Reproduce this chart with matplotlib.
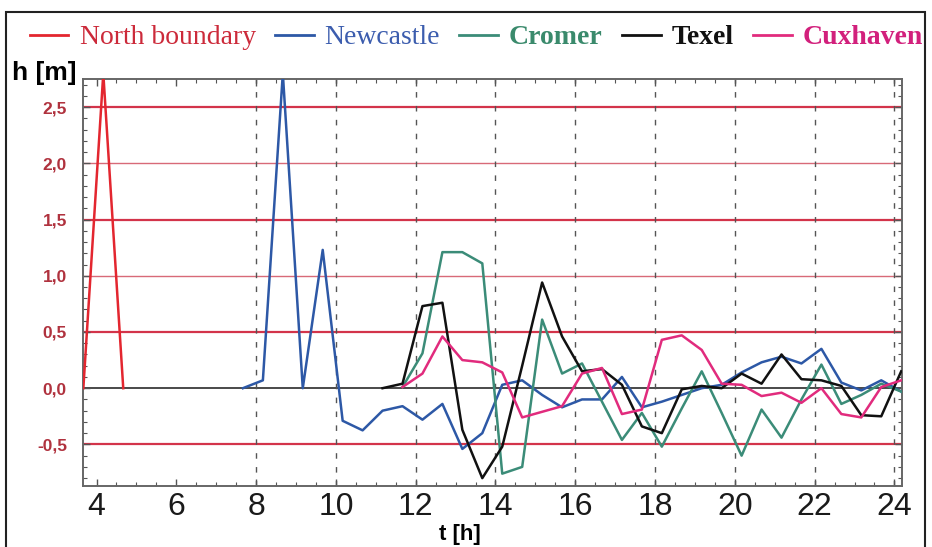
import matplotlib
matplotlib.use("Agg")
import matplotlib.pyplot as plt
from matplotlib.lines import Line2D
from matplotlib.patches import Rectangle
from matplotlib.ticker import MultipleLocator

# water level h [m] at gauge stations, t [h]
T_NORTH = [3.67, 4.17, 4.67]
H_NORTH = [0.0, 2.8, 0.0]

T_NEWCASTLE = [7.67, 8.17, 8.67, 9.17, 9.67, 10.17, 10.67, 11.17, 11.67, 12.17,
               12.67, 13.17, 13.67, 14.17, 14.67, 15.17, 15.67, 16.17, 16.67, 17.17,
               17.67, 18.17, 18.67, 19.17, 19.67, 20.17, 20.67, 21.17, 21.67, 22.17,
               22.67, 23.17, 23.67, 24.17]
H_NEWCASTLE = [0.0, 0.07, 2.8, 0.0, 1.23, -0.29, -0.375, -0.20, -0.16, -0.28,
               -0.14, -0.54, -0.40, 0.03, 0.07, -0.06, -0.17, -0.10, -0.10, 0.10,
               -0.17, -0.12, -0.06, 0.0, 0.03, 0.14, 0.23, 0.28, 0.22, 0.35,
               0.05, -0.02, 0.07, -0.03]

T_CROMER = [11.67, 12.17, 12.67, 13.17, 13.67, 14.17, 14.67, 15.17, 15.67, 16.17,
            16.67, 17.17, 17.67, 18.17, 18.67, 19.17, 19.67, 20.17, 20.67, 21.17,
            21.67, 22.17, 22.67, 23.17, 23.67, 24.17]
H_CROMER = [0.01, 0.31, 1.21, 1.21, 1.11, -0.76, -0.70, 0.61, 0.13, 0.22,
            -0.12, -0.46, -0.22, -0.52, -0.18, 0.15, -0.22, -0.60, -0.19, -0.44,
            -0.10, 0.21, -0.14, -0.06, 0.04, -0.03]

T_TEXEL = [11.17, 11.67, 12.17, 12.67, 13.17, 13.67, 14.17, 14.67, 15.17, 15.67,
           16.17, 16.67, 17.17, 17.67, 18.17, 18.67, 19.17, 19.67, 20.17, 20.67,
           21.17, 21.67, 22.17, 22.67, 23.17, 23.67, 24.17]
H_TEXEL = [0.0, 0.04, 0.73, 0.76, -0.37, -0.80, -0.52, 0.20, 0.94, 0.46,
           0.15, 0.17, 0.03, -0.34, -0.40, -0.01, 0.02, 0.0, 0.13, 0.04,
           0.30, 0.08, 0.07, 0.02, -0.24, -0.25, 0.15]

T_CUXHAVEN = [11.67, 12.17, 12.67, 13.17, 13.67, 14.17, 14.67, 15.17, 15.67, 16.17,
              16.67, 17.17, 17.67, 18.17, 18.67, 19.17, 19.67, 20.17, 20.67, 21.17,
              21.67, 22.17, 22.67, 23.17, 23.67, 24.17]
H_CUXHAVEN = [0.01, 0.13, 0.46, 0.25, 0.23, 0.14, -0.26, -0.21, -0.16, 0.13,
              0.18, -0.23, -0.19, 0.43, 0.47, 0.34, 0.04, 0.03, -0.07, -0.04,
              -0.13, 0.0, -0.23, -0.26, 0.01, 0.07]

SERIES = [
    ("North boundary", T_NORTH, H_NORTH, "#e3262f", "#cc2a3a", "normal"),
    ("Newcastle", T_NEWCASTLE, H_NEWCASTLE, "#2d58a6", "#3c5dae", "normal"),
    ("Cromer", T_CROMER, H_CROMER, "#3b8c78", "#3a8a6c", "bold"),
    ("Texel", T_TEXEL, H_TEXEL, "#111111", "#111111", "bold"),
    ("Cuxhaven", T_CUXHAVEN, H_CUXHAVEN, "#e12b7d", "#d2207c", "bold"),
]

Y_TICKS = [-0.5, 0.0, 0.5, 1.0, 1.5, 2.0, 2.5]
Y_TICK_LABELS = ["-0,5", "0,0", "0,5", "1,0", "1,5", "2,0", "2,5"]
X_TICKS = [4, 6, 8, 10, 12, 14, 16, 18, 20, 22, 24]
DASHED_T = [8, 10, 12, 14, 16, 18, 20, 22, 24]
STRONG_LEVELS = [2.5, 1.5, 0.5, -0.5]
WEAK_LEVELS = [2.0, 1.0]

SANS = ["Liberation Sans", "DejaVu Sans"]


def main() -> None:
    fig = plt.figure(figsize=(9.32, 5.47), dpi=100)
    ax = fig.add_axes([0.089, 0.1115, 0.8788, 0.7441])

    # grid: red level lines and dashed hour lines
    for lev in STRONG_LEVELS:
        ax.axhline(lev, color="#d3344a", lw=1.6, zorder=1)
    for lev in WEAK_LEVELS:
        ax.axhline(lev, color="#d86a78", lw=1.0, zorder=1)
    ax.axhline(0.0, color="#3a3a3a", lw=1.3, zorder=1)
    for t in DASHED_T:
        ax.axvline(t, color="#555555", lw=1.0, ls=(0, (4, 6)), zorder=1)

    handles = []
    for name, t, h, color, text_color, weight in SERIES:
        ax.plot(t, h, color=color, lw=1.8, zorder=3)
        handles.append(Line2D([], [], color=color, lw=2.0, label=name))

    ax.set_xlim(3.66, 24.19)
    ax.set_ylim(-0.87, 2.75)

    ax.set_xticks(X_TICKS)
    ax.set_xticklabels([str(x) for x in X_TICKS], family=SANS, fontsize=23)
    ax.xaxis.set_minor_locator(MultipleLocator(0.5))
    ax.set_yticks(Y_TICKS)
    ax.set_yticklabels(Y_TICK_LABELS, family=SANS, fontsize=12.5,
                       fontweight="bold", color="#b0323e")
    ax.yaxis.set_minor_locator(MultipleLocator(0.1))

    ax.tick_params(axis="both", which="both", direction="in", top=True, right=True,
                   color="#555555")
    ax.tick_params(axis="both", which="major", length=5, width=1)
    ax.tick_params(axis="both", which="minor", length=3, width=0.8)
    ax.tick_params(axis="x", which="major", pad=4, labelcolor="#1a1a1a")
    ax.tick_params(axis="y", which="major", pad=11.5)

    for sp in ax.spines.values():
        sp.set_color("#666666")
        sp.set_linewidth(1.4)

    ax.set_xlabel("t [h]", fontsize=16, fontweight="bold", family=SANS)
    ax.xaxis.set_label_coords(0.46, -0.094)
    ax.set_ylabel("h [m]", fontsize=19, fontweight="bold", rotation=0, family=SANS,
                  va="center")
    ax.yaxis.set_label_coords(-0.047, 1.015)

    leg = fig.legend(handles=handles, loc="upper center", bbox_to_anchor=(0.511, 1.0),
                     ncol=5, frameon=False, handlelength=1.4, handletextpad=0.4,
                     columnspacing=0.68,
                     prop={"family": ["Liberation Serif", "DejaVu Serif"], "size": 20})
    for txt, (_, _, _, _, text_color, weight) in zip(leg.get_texts(), SERIES):
        txt.set_color(text_color)
        txt.set_fontweight(weight)

    # outer frame of the figure
    fig.patches.append(Rectangle((0.0065, -0.01), 0.986, 0.988, transform=fig.transFigure,
                                 fill=False, edgecolor="#222222", lw=1.5))

    fig.savefig("out.png", dpi=100)
    plt.close(fig)


if __name__ == "__main__":
    main()
